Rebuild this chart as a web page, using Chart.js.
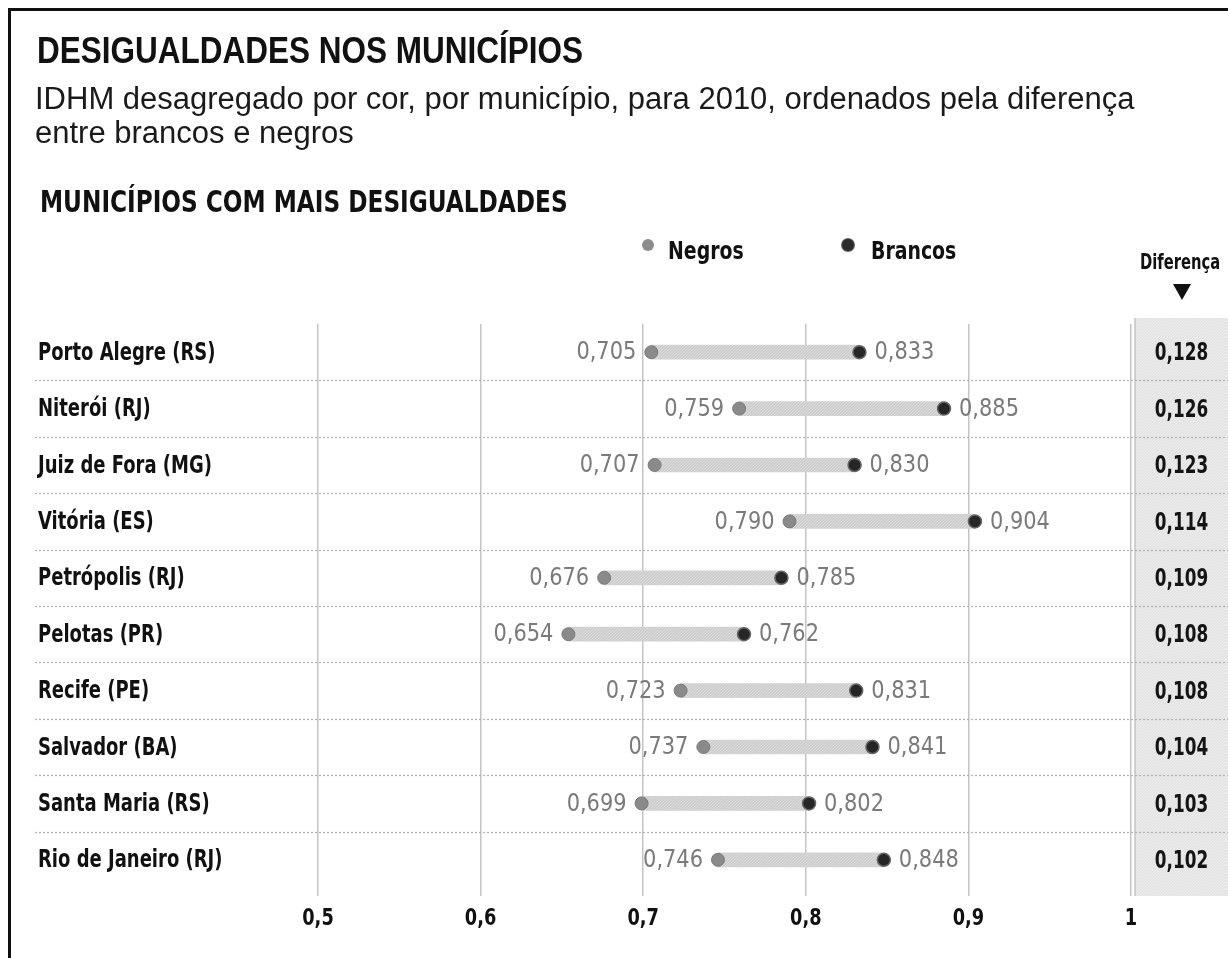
<!DOCTYPE html>
<html>
<head>
<meta charset="utf-8">
<script src="https://cdn.jsdelivr.net/npm/chart.js@4.4.1/dist/chart.umd.min.js"></script>
<style>
  html, body { margin: 0; padding: 0; background: #fff; }
  #wrap { position: relative; width: 1228px; height: 958px; overflow: hidden; }
  #frame { position: absolute; left: 8px; top: 8px; width: 1300px; height: 1000px;
           border-left: 3px solid #111; border-top: 3px solid #111; }
  #chart { position: absolute; left: 0; top: 0; }
  .txt { position: absolute; white-space: nowrap; color: #111; transform-origin: 0 0; line-height: 1; }
  .title { left: 37px; top: 30px; font: bold 36px "Liberation Sans", Arial, sans-serif; transform: scaleX(0.875); }
  .sub { left: 35px; top: 82px; font: 31px "Liberation Sans", Arial, sans-serif; line-height: 34px; color: #1a1a1a; }
  .section { left: 40px; top: 184px; font: bold 30px "DejaVu Sans Condensed", sans-serif; transform: scaleX(0.86); }
  .leg { top: 236px; font: bold 25px "DejaVu Sans Condensed", sans-serif; transform: scaleX(0.84); }
  .dot { position: absolute; width: 12px; height: 12px; border-radius: 50%; }
  .diff { left: 1140px; top: 250px; font: bold 21px "DejaVu Sans Condensed", sans-serif; transform: scaleX(0.78); }
  .tri { position: absolute; left: 1173px; top: 284px; width: 0; height: 0;
         border-left: 9px solid transparent; border-right: 9px solid transparent; border-top: 16px solid #111; }
</style>
</head>
<body>
<div id="wrap">
  <canvas id="chart" width="1228" height="958"></canvas>
  <div id="frame"></div>
  <div class="txt title">DESIGUALDADES NOS MUNICÍPIOS</div>
  <div class="txt sub">IDHM desagregado por cor, por município, para 2010, ordenados pela diferença<br>entre brancos e negros</div>
  <div class="txt section">MUNICÍPIOS COM MAIS DESIGUALDADES</div>
  <span class="dot" style="left:642px; top:239px; background:#8c8c8c;"></span>
  <div class="txt leg" style="left:668px;">Negros</div>
  <span class="dot" style="left:842px; top:239px; background:#2b2b2b; box-shadow: 0 0 0 1px #666;"></span>
  <div class="txt leg" style="left:871px;">Brancos</div>
  <div class="txt diff">Diferença</div>
  <div class="tri"></div>
</div>
<script>
// IDHM 2010 por cor, municípios com maior diferença
const cities = [
  "Porto Alegre (RS)", "Niterói (RJ)", "Juiz de Fora (MG)", "Vitória (ES)", "Petrópolis (RJ)",
  "Pelotas (PR)", "Recife (PE)", "Salvador (BA)", "Santa Maria (RS)", "Rio de Janeiro (RJ)"
];
const negros = [0.705, 0.759, 0.707, 0.790, 0.676, 0.654, 0.723, 0.737, 0.699, 0.746];
const brancos = [0.833, 0.885, 0.830, 0.904, 0.785, 0.762, 0.831, 0.841, 0.802, 0.848];
const diferenca = [0.128, 0.126, 0.123, 0.114, 0.109, 0.108, 0.108, 0.104, 0.103, 0.102];
const xTicks = [0.5, 0.6, 0.7, 0.8, 0.9, 1];

const COND = '"DejaVu Sans Condensed", "DejaVu Sans", sans-serif';

function fmt(v, digits) {
  return v === 1 ? "1" : v.toFixed(digits).replace(".", ",");
}

/**
 * Small dotted textures like the printed original.
 */
function makePattern(base, speck) {
  const c = document.createElement("canvas");
  c.width = 3;
  c.height = 3;
  const g = c.getContext("2d");
  g.fillStyle = base;
  g.fillRect(0, 0, 3, 3);
  g.fillStyle = speck;
  g.fillRect(0, 0, 1, 1);
  g.fillRect(2, 1, 1, 1);
  g.fillRect(1, 2, 1, 1);
  return g.createPattern(c, "repeat");
}

/**
 * Condensed text: squeeze horizontally around the anchor.
 */
function squeezedText(ctx, text, x, y, sx, align) {
  ctx.save();
  ctx.translate(x, y);
  ctx.scale(sx, 1);
  ctx.textAlign = align;
  ctx.fillText(text, 0, 0);
  ctx.restore();
}

const ctx0 = document.getElementById("chart").getContext("2d");
const barPattern = makePattern("#cdcdcd", "#dcdcdc");
const boxPattern = makePattern("#e3e3e3", "#eeeeee");

/**
 * Row separators, difference column, axis labels and value labels.
 */
const extras = {
  id: "extras",
  beforeDatasetsDraw(chart) {
    const { ctx, chartArea, scales: { x, y } } = chart;
    const left = x.getPixelForValue(1) + 4;
    const top = chartArea.top - 6;
    const bottom = chartArea.bottom + 8;
    ctx.save();
    ctx.fillStyle = boxPattern;
    ctx.fillRect(left, top, chart.width - left, bottom - top);
    ctx.strokeStyle = "#c4c4c4";
    ctx.lineWidth = 1.5;
    ctx.beginPath();
    ctx.moveTo(left, top);
    ctx.lineTo(left, bottom);
    ctx.stroke();

    ctx.setLineDash([2, 2]);
    ctx.strokeStyle = "#b0b0b0";
    ctx.lineWidth = 1.2;
    for (let i = 0; i < cities.length - 1; i++) {
      const yy = Math.round((y.getPixelForValue(i) + y.getPixelForValue(i + 1)) / 2) + 0.5;
      ctx.beginPath();
      ctx.moveTo(35, yy);
      ctx.lineTo(chart.width, yy);
      ctx.stroke();
    }
    ctx.restore();
  },
  afterDatasetsDraw(chart) {
    const { ctx, chartArea, scales: { x, y } } = chart;
    ctx.save();
    ctx.textBaseline = "middle";

    // city names (y axis)
    ctx.font = "bold 25px " + COND;
    ctx.fillStyle = "#111";
    cities.forEach((c, i) => squeezedText(ctx, c, y.left, y.getPixelForValue(i) + 1, 0.8, "left"));

    // x axis labels
    ctx.font = "bold 23px " + COND;
    xTicks.forEach((v) => squeezedText(ctx, fmt(v, 1), x.getPixelForValue(v), chartArea.bottom + 31, 0.86, "center"));

    // point values
    ctx.font = "24px " + COND;
    ctx.fillStyle = "#7a7a7a";
    cities.forEach((c, i) => {
      const yy = y.getPixelForValue(i) + 1;
      squeezedText(ctx, fmt(negros[i], 3), x.getPixelForValue(negros[i]) - 15, yy, 0.97, "right");
      squeezedText(ctx, fmt(brancos[i], 3), x.getPixelForValue(brancos[i]) + 15, yy, 0.97, "left");
    });

    // difference column
    const colX = (x.getPixelForValue(1) + 4 + chart.width) / 2;
    ctx.font = "bold 24px " + COND;
    ctx.fillStyle = "#141414";
    diferenca.forEach((d, i) => squeezedText(ctx, fmt(d, 3), colX, y.getPixelForValue(i) + 2, 0.78, "center"));
    ctx.restore();
  }
};

new Chart(ctx0, {
  data: {
    labels: cities,
    datasets: [
      {
        type: "bar",
        label: "Diferença",
        data: negros.map((n, i) => [n, brancos[i]]),
        backgroundColor: barPattern,
        borderWidth: 0,
        barThickness: 14,
        order: 3
      },
      {
        type: "line",
        label: "Negros",
        data: negros,
        showLine: false,
        pointRadius: 6.5,
        pointBackgroundColor: "#8a8a8a",
        pointBorderColor: "#7a7a7a",
        pointBorderWidth: 1,
        order: 2
      },
      {
        type: "line",
        label: "Brancos",
        data: brancos,
        showLine: false,
        pointRadius: 6.5,
        pointBackgroundColor: "#262626",
        pointBorderColor: "#666",
        pointBorderWidth: 1.5,
        order: 1
      }
    ]
  },
  options: {
    indexAxis: "y",
    responsive: false,
    animation: false,
    layout: { padding: { left: 38, right: 97, top: 324, bottom: 20 } },
    plugins: { legend: { display: false }, tooltip: { enabled: false } },
    scales: {
      x: {
        type: "linear",
        min: 0.5,
        max: 1,
        afterBuildTicks: (axis) => { axis.ticks = xTicks.map((v) => ({ value: v })); },
        afterFit: (axis) => { axis.height = 50; },
        grid: { color: "#c4c4c4", lineWidth: 1.5, tickLength: 8 },
        border: { display: false },
        ticks: { display: false }
      },
      y: {
        type: "category",
        afterFit: (axis) => { axis.width = 280; },
        grid: { display: false },
        border: { display: false },
        ticks: { display: false }
      }
    }
  },
  plugins: [extras]
});
</script>
</body>
</html>
